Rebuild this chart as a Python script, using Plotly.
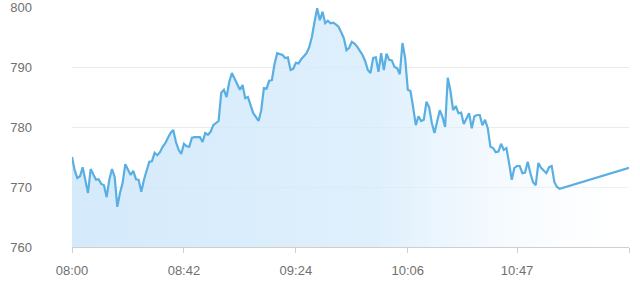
import plotly.graph_objects as go
import pandas as pd

# Price values, one per minute starting at 08:00
values = [
    775.0, 772.8, 771.5, 771.8, 773.3, 771.2, 769.0, 773.0, 772.2, 771.2,
    771.3, 770.5, 770.3, 768.3, 771.2, 773.0, 771.7, 766.7, 769.0, 770.7,
    773.8, 772.8, 772.0, 772.7, 771.3, 771.2, 769.2, 771.2, 772.7, 774.2,
    774.3, 775.7, 775.3, 775.8, 776.7, 777.3, 778.2, 779.0, 779.5, 777.5,
    776.2, 775.5, 777.2, 776.8, 776.7, 778.2, 778.3, 778.3, 778.3, 777.5,
    779.0, 778.7, 779.2, 780.3, 780.7, 781.0, 785.7, 786.2, 785.0, 787.5,
    789.0, 788.0, 787.3, 786.2, 787.0, 784.8, 785.0, 783.5, 782.3, 781.7,
    781.0, 782.8, 786.5, 786.4, 787.7, 787.8, 790.5, 792.3, 792.2, 792.0,
    791.5, 791.6, 789.5, 789.7, 790.7, 790.6, 791.3, 791.8, 792.3, 793.3,
    795.0, 797.5, 799.8, 797.8, 799.2, 797.3, 797.7, 797.3, 797.4, 797.1,
    796.7, 795.8, 794.8, 792.8, 793.2, 794.2, 793.9, 793.4, 792.7, 792.0,
    791.0, 789.5, 789.0, 791.5, 791.6, 789.2, 792.3, 789.5, 792.2, 791.2,
    791.1, 790.0, 789.8, 788.8, 794.0, 791.5, 786.2, 786.0, 783.3, 780.3,
    781.8, 781.0, 781.2, 784.2, 783.3, 780.7, 779.0, 780.7, 782.8, 781.7,
    780.0, 788.2, 786.0, 782.8, 783.5, 782.3, 782.4, 780.5, 781.4, 782.3,
    779.8, 781.8, 782.0, 782.0, 780.3, 781.2, 779.8, 776.7, 776.5, 775.8,
    775.9, 777.2, 776.2, 776.5, 774.0, 771.2, 773.2, 773.5, 773.5, 772.3,
    772.4, 774.2, 772.3, 770.8, 770.3, 774.0, 773.2, 772.8, 772.3, 773.3,
    773.5, 770.8, 770.0, 769.7,
]
last_time = "2024-01-01 11:29"
last_value = 773.2

tick_labels = ["08:00", "08:42", "09:24", "10:06", "10:47"]
y_ticks = [760, 770, 780, 790, 800]

times = list(pd.date_range("2024-01-01 08:00", periods=len(values), freq="min"))
times.append(pd.Timestamp(last_time))
vals = values + [last_value]

tick_times = ["2024-01-01 " + t for t in tick_labels] + [last_time]

fig = go.Figure()
fig.add_trace(go.Scatter(
    x=times, y=vals, mode="lines",
    line=dict(color="#5aafe2", width=2.2),
    fill="tozeroy",
    fillgradient=dict(
        type="horizontal",
        colorscale=[[0, "rgba(205,230,250,0.85)"],
                    [0.55, "rgba(215,236,252,0.8)"],
                    [1, "rgba(255,255,255,0.2)"]],
    ),
    hoverinfo="skip",
))

fig.update_layout(
    width=640, height=282,
    margin=dict(l=72, r=11, t=7, b=35),
    paper_bgcolor="white", plot_bgcolor="white",
    showlegend=False,
    font=dict(family="Liberation Sans, Arial, sans-serif", size=13, color="#707070"),
)
fig.update_xaxes(
    type="date",
    range=["2024-01-01 08:00", last_time],
    tickvals=tick_times,
    ticktext=tick_labels + [""],
    showgrid=False, zeroline=False,
    showline=True, linecolor="#cfcfcf", linewidth=1,
    ticks="outside", ticklen=5, tickcolor="#cfcfcf",
    ticklabelstandoff=6,
    automargin=False,
)
fig.update_yaxes(
    range=[760, 800],
    tickvals=y_ticks,
    showgrid=True, gridcolor="#ebebeb", gridwidth=1,
    zeroline=False, showline=False, ticks="",
    ticklabelstandoff=39,
    ticklabeloverflow="allow",
    automargin=False,
)
fig.write_html("out.html")
